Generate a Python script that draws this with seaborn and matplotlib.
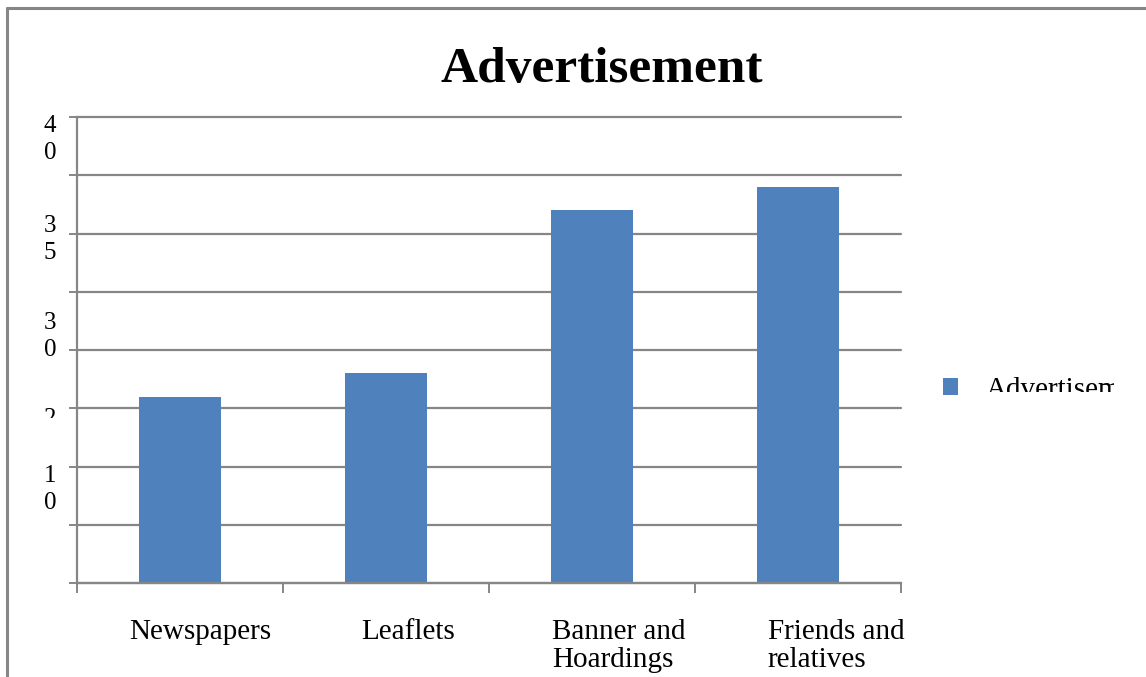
import matplotlib
matplotlib.use("Agg")
import matplotlib.pyplot as plt
import matplotlib.transforms as mtransforms
from matplotlib.lines import Line2D
import seaborn as sns
import pandas as pd

# ---- data ----
categories = ["Newspapers", "Leaflets", "Banner and\nHoardings", "Friends and\nrelatives"]
values = [16, 18, 32, 34]
series_name = "Advertisement"
legend_label = "Advertisement"
title = "Advertisement"
# y tick labels as they appear (wrapped) and where they sit on the value axis
ytick_labels = ["4\n0", "3\n5", "3\n0", "2", "1\n0"]
ytick_label_pos = [40.2, 31.6, 23.3, 15.0, 10.1]
grid_values = [0, 5, 10, 15, 20, 25, 30, 35, 40]

sns.set_theme(style="white")
plt.rcParams["font.family"] = ["Liberation Serif", "DejaVu Serif"]
plt.rcParams["text.color"] = "black"
plt.rcParams["xtick.labelcolor"] = "black"
plt.rcParams["ytick.labelcolor"] = "black"

W, H = 1146, 677
fig = plt.figure(figsize=(W / 100, H / 100), dpi=100)
ax = fig.add_axes([77 / W, 1 - 583 / H, (901 - 77) / W, (583 - 117) / H])

df = pd.DataFrame({"cat": categories, "val": values, "series": series_name})
bar_color = "#4F81BD"
grey = "#868686"
sns.barplot(data=df, x="cat", y="val", color=bar_color, width=0.4, ax=ax,
            saturation=1, label=legend_label, linewidth=0, edgecolor=bar_color)

ax.set_xlim(-0.5, len(categories) - 0.5)
ax.set_ylim(0, 40)
ax.set_xlabel("")
ax.set_ylabel("")

# gridlines
ax.set_yticks(grid_values)
ax.set_yticklabels([""] * len(grid_values))
ax.yaxis.grid(True, color=grey, linewidth=1.6)
for gl in ax.get_ygridlines():
    gl.set_clip_on(False)
ax.set_axisbelow(True)
ax.tick_params(axis="y", which="major", length=5.5, width=1.4, color=grey, left=True)

# y labels (wrapped, as in reference)
trans_y = mtransforms.blended_transform_factory(ax.transAxes, ax.transData)
for lab, pos in zip(ytick_labels, ytick_label_pos):
    t = ax.text(-0.033, pos, lab, transform=trans_y, ha="center", va="top",
                fontsize=18, linespacing=1.3, color="black", clip_on=False)
    if lab == "2":
        clipbb = mtransforms.Bbox.from_extents(0, 1 - 418 / H, 0.2, 1)
        t.set_clip_box(mtransforms.TransformedBbox(clipbb, fig.transFigure))
        t.set_clip_on(True)

# x ticks: labels at centres, tick marks at category boundaries
ax.set_xticks(range(len(categories)))
ax.set_xticklabels(categories, fontsize=21, linespacing=1.1, multialignment="left",
                   color="black")
ax.set_xticks([i - 0.5 for i in range(len(categories) + 1)], minor=True)
ax.tick_params(axis="x", which="major", length=0, pad=26)
ax.tick_params(axis="x", which="minor", length=7, width=1.4, color=grey, bottom=True)
label_shift_px = [20, 22, 27, 38]
for lbl, dx in zip(ax.get_xticklabels(), label_shift_px):
    off = mtransforms.ScaledTranslation(dx / 100, 0, fig.dpi_scale_trans)
    lbl.set_transform(lbl.get_transform() + off)
    lbl.set_verticalalignment("top")

for s in ["top", "right"]:
    ax.spines[s].set_visible(False)
for s in ["left", "bottom"]:
    ax.spines[s].set_color(grey)
    ax.spines[s].set_linewidth(1.6)

# title
fig.text(602 / W, 1 - 82 / H, title, ha="center", va="baseline",
         fontsize=37, fontweight="bold", color="black")

# legend (text clipped as in reference)
leg = ax.legend(loc="center left", bbox_to_anchor=(917 / W, 1 - 390 / H),
                bbox_transform=fig.transFigure, frameon=False, fontsize=21,
                handlelength=0.52, handleheight=0.52, handletextpad=0.95,
                labelcolor="black")
clipbb = mtransforms.Bbox.from_extents(900 / W, 1 - 392 / H, 1114 / W, 1 - 360 / H)
for t in leg.get_texts():
    t.set_clip_box(mtransforms.TransformedBbox(clipbb, fig.transFigure))
    t.set_clip_on(True)

# outer chart border (partly outside the image)
fig.add_artist(Line2D([7 / W, 7 / W], [0, 1 - 8 / H], transform=fig.transFigure,
                      color=grey, linewidth=2.2))
fig.add_artist(Line2D([7 / W, 1], [1 - 8 / H, 1 - 8 / H], transform=fig.transFigure,
                      color=grey, linewidth=2.2))

fig.savefig("out.png", dpi=100)
